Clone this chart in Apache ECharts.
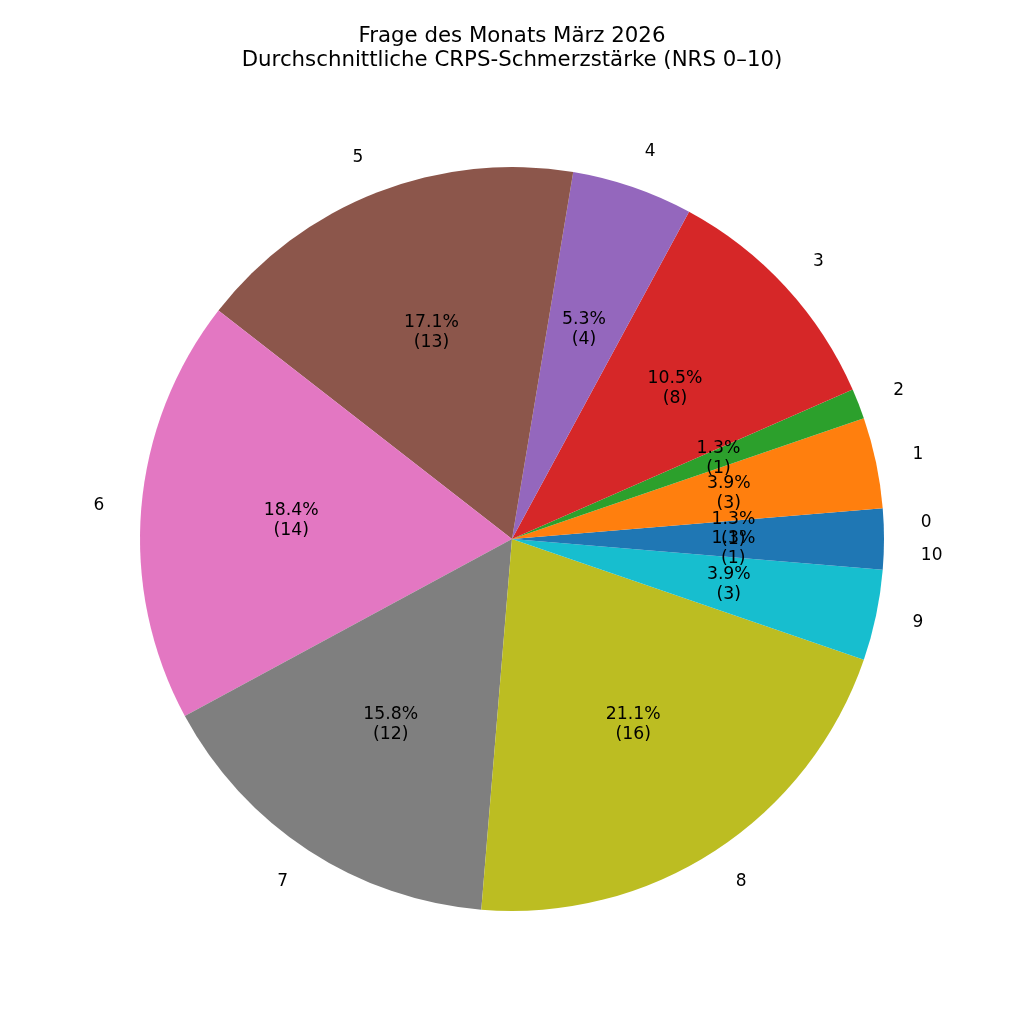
<!DOCTYPE html>
<html>
<head>
<meta charset="utf-8">
<script src="https://cdn.jsdelivr.net/npm/echarts@6/dist/echarts.min.js"></script>
<style>html,body{margin:0;padding:0;background:#fff}</style>
</head>
<body>
<div id="chart" style="width:1024px;height:1024px"></div>
<script>
// NRS-Stufen und Anzahl der Antworten
var stufen = ['0', '1', '2', '3', '4', '5', '6', '7', '8', '9', '10'];
var anzahl = [1, 3, 1, 8, 4, 13, 14, 12, 16, 3, 1];
var farben = ['#1f77b4', '#ff7f0e', '#2ca02c', '#d62728', '#9467bd', '#8c564b',
              '#e377c2', '#7f7f7f', '#bcbd22', '#17becf', '#1f77b4'];

var R = 372;
var font = 'DejaVu Sans';
var summe = anzahl.reduce(function (a, b) { return a + b; }, 0);

var daten = stufen.map(function (s, i) {
    return { name: s, value: anzahl[i], itemStyle: { color: farben[i] } };
});

var myChart = echarts.init(document.getElementById('chart'));
var option = {
    animation: false,
    title: {
        text: 'Frage des Monats März 2026\nDurchschnittliche CRPS-Schmerzstärke (NRS 0–10)',
        left: 'center',
        top: 19,
        textStyle: { fontFamily: font, fontSize: 21.3, fontWeight: 'normal', color: '#000', lineHeight: 24 }
    },
    series: [
        {   // Tortenstücke mit Stufen außen
            type: 'pie',
            center: [512, 539],
            radius: [0, R],
            startAngle: 0,
            clockwise: false,
            avoidLabelOverlap: false,
            silent: true,
            itemStyle: { borderWidth: 0 },
            label: {
                show: true,
                position: 'outside',
                distanceToLabelLine: 0,
                fontFamily: font, fontSize: 17, color: '#000'
            },
            labelLine: { show: false, length: R * 0.1, length2: 0 },
            labelLayout: { hideOverlap: false },
            data: daten
        },
        {   // Prozentangaben innen (etwa bei 0.59 R)
            type: 'pie',
            center: [512, 539],
            radius: [R * 0.175, R],
            startAngle: 0,
            clockwise: false,
            avoidLabelOverlap: false,
            silent: true,
            itemStyle: { color: 'rgba(0,0,0,0)', borderWidth: 0 },
            label: {
                show: true,
                position: 'inside',
                fontFamily: font, fontSize: 17.3, color: '#000', lineHeight: 20,
                formatter: function (p) {
                    return (p.value / summe * 100).toFixed(1) + '%\n(' + p.value + ')';
                }
            },
            labelLine: { show: false },
            labelLayout: { hideOverlap: false },
            data: stufen.map(function (s, i) { return { name: s, value: anzahl[i] }; })
        }
    ]
};
myChart.setOption(option);
</script>
</body>
</html>
